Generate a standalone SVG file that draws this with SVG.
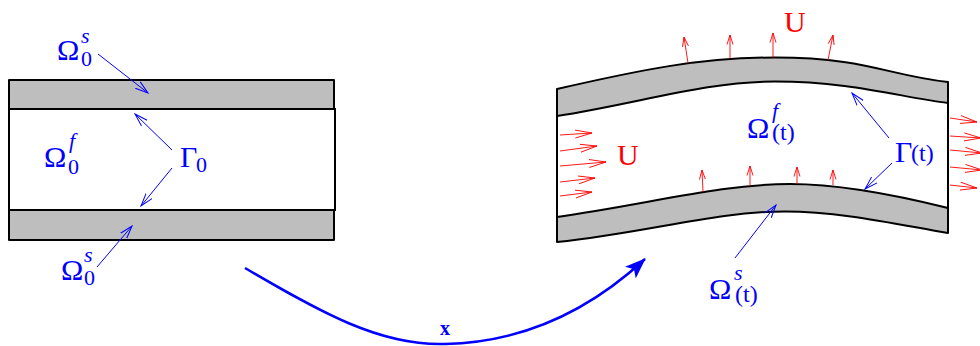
<svg xmlns="http://www.w3.org/2000/svg" width="980" height="346" viewBox="0 0 980 346">
<style>
.wall{fill:#bebebe;stroke:#000;stroke-width:2;stroke-linejoin:round}
.fluid{fill:#fff;stroke:none}
.edge{fill:none;stroke:#000;stroke-width:2}
.lbl{font-family:"Liberation Serif","Times New Roman",serif;fill:#0000ff}
.red{font-family:"Liberation Serif","Times New Roman",serif;fill:#ff0000}
.ba{fill:none;stroke:#0000ff;stroke-width:1}
.ra{fill:none;stroke:#ff0000;stroke-width:0.9}
</style>
<defs>
<marker id="bo" markerUnits="userSpaceOnUse" viewBox="0 0 14 10" markerWidth="14" markerHeight="10" refX="13" refY="5" orient="auto">
<path d="M0,1 L13,5 L0,9" fill="none" stroke="#0000ff" stroke-width="1"/>
</marker>
<marker id="rs" markerUnits="userSpaceOnUse" viewBox="0 0 10 8" markerWidth="10" markerHeight="8" refX="9.5" refY="4" orient="auto">
<path d="M0,1 L9.5,4 L0,7" fill="none" stroke="#ff0000" stroke-width="0.9"/>
</marker>
<marker id="rl" markerUnits="userSpaceOnUse" viewBox="0 0 18 10" markerWidth="18" markerHeight="10" refX="17" refY="5" orient="auto">
<path d="M0,1 L17,5 L0,9" fill="none" stroke="#ff0000" stroke-width="0.9"/>
</marker>
<marker id="big" markerUnits="userSpaceOnUse" viewBox="0 0 22 16" markerWidth="22" markerHeight="16" refX="20" refY="8" orient="auto">
<path d="M0,0 L21,8 L0,16 L5,8 Z" fill="#0000ff"/>
</marker>
</defs>

<g id="reference-channel">
<rect class="fluid" x="9" y="109" width="326" height="101"/>
<rect x="9" y="109" width="326" height="101" fill="none" stroke="#000" stroke-width="2"/>
<rect class="wall" x="9" y="80" width="325" height="29"/>
<rect class="wall" x="9" y="210" width="325" height="30"/>
</g>

<g id="deformed-channel">
<path class="fluid" d="M557,116 C640,103 705,81.5 775,81.5 C850,81.5 900,97 948,103 L948,208 C900,196 844,184 790,184 C720,184 650,204 557,217 Z"/>
<path class="wall" d="M557,89 C640,70 700,57.5 775,57.5 C866,57.5 890,76 948,82 L948,103 C900,97 850,81.5 775,81.5 C705,81.5 640,103 557,116 Z"/>
<path class="wall" d="M557,217 C650,204 720,184 790,184 C844,184 900,196 948,208 L948,233 C895,224 840,211.5 785,211.5 C715,211.5 650,232 557,242 Z"/>
<path class="edge" d="M557,89 L557,242 M948,82 L948,233"/>
</g>

<g id="labels-reference">
<g id="omega0s-top"><text class="lbl" x="57" y="60" font-size="30">Ω</text><text class="lbl" x="81" y="66" font-size="22">0</text><text class="lbl" x="81" y="43" font-size="22" font-style="italic">s</text></g>
<g id="omega0f"><text class="lbl" x="44" y="167" font-size="30">Ω</text><text class="lbl" x="68" y="174" font-size="22">0</text><text class="lbl" x="69" y="148" font-size="22" font-style="italic">f</text></g>
<g id="gamma0"><text class="lbl" x="180" y="167" font-size="30">Γ</text><text class="lbl" x="196" y="172" font-size="22">0</text></g>
<g id="omega0s-bottom"><text class="lbl" x="61" y="280" font-size="30">Ω</text><text class="lbl" x="84" y="285" font-size="22">0</text><text class="lbl" x="84" y="262" font-size="22" font-style="italic">s</text></g>
</g>

<g id="labels-deformed">
<g id="omegaft"><text class="lbl" x="747" y="138" font-size="30">Ω</text><text class="lbl" x="772" y="118" font-size="22" font-style="italic">f</text><text class="lbl" x="772" y="140" font-size="24">(t)</text></g>
<g id="gammat"><text class="lbl" x="895" y="162" font-size="30">Γ</text><text class="lbl" x="911" y="161" font-size="24">(t)</text></g>
<g id="omegast"><text class="lbl" x="709" y="299" font-size="30">Ω</text><text class="lbl" x="734" y="280" font-size="22" font-style="italic">s</text><text class="lbl" x="735" y="302" font-size="24">(t)</text></g>
<g id="u-top"><text class="red" x="784" y="32" font-size="30">U</text></g>
<g id="u-left"><text class="red" x="617" y="165" font-size="30">U</text></g>
<g id="map-x"><text class="lbl" x="440" y="335" font-size="20" font-weight="bold">x</text></g>
</g>

<g id="connectors">
<path class="ba" marker-end="url(#bo)" d="M98,54 L148,93"/>
<path class="ba" marker-end="url(#bo)" d="M172,150 L135,114"/>
<path class="ba" marker-end="url(#bo)" d="M172,168 L141,206"/>
<path class="ba" marker-end="url(#bo)" d="M97,267 L132,226"/>
<path class="ba" marker-end="url(#bo)" d="M889,138 L852,93"/>
<path class="ba" marker-end="url(#bo)" d="M892,163 L865,189"/>
<path class="ba" marker-end="url(#bo)" d="M735,258 L776,205"/>
<path fill="none" stroke="#0000ff" stroke-width="2.5" marker-end="url(#big)" d="M245,268 C320,312 380,346 445,344 C540,342 605,296 645,259"/>
<g id="velocity-arrows">
<path class="ra" marker-end="url(#rs)" d="M688,63 L684,37"/>
<path class="ra" marker-end="url(#rs)" d="M730,58.5 L730,35"/>
<path class="ra" marker-end="url(#rs)" d="M773,57.5 L773,33"/>
<path class="ra" marker-end="url(#rs)" d="M828,60 L833,35"/>
<path class="ra" marker-end="url(#rs)" d="M703,192 L702,170"/>
<path class="ra" marker-end="url(#rs)" d="M750,186 L750,166"/>
<path class="ra" marker-end="url(#rs)" d="M797,184 L797,167"/>
<path class="ra" marker-end="url(#rs)" d="M833,185 L833,170"/>
<path class="ra" marker-end="url(#rl)" d="M560,135 L592,133"/>
<path class="ra" marker-end="url(#rl)" d="M560,151 L597,146"/>
<path class="ra" marker-end="url(#rl)" d="M560,166 L606,162"/>
<path class="ra" marker-end="url(#rl)" d="M560,182 L595,178"/>
<path class="ra" marker-end="url(#rl)" d="M560,196 L592,192"/>
<path class="ra" marker-end="url(#rl)" d="M950,118 L977,122"/>
<path class="ra" marker-end="url(#rl)" d="M950,136 L981,138"/>
<path class="ra" marker-end="url(#rl)" d="M950,150 L982,153"/>
<path class="ra" marker-end="url(#rl)" d="M950,167 L982,170"/>
<path class="ra" marker-end="url(#rl)" d="M950,185 L977,188"/>
</g>
</g>
</svg>
